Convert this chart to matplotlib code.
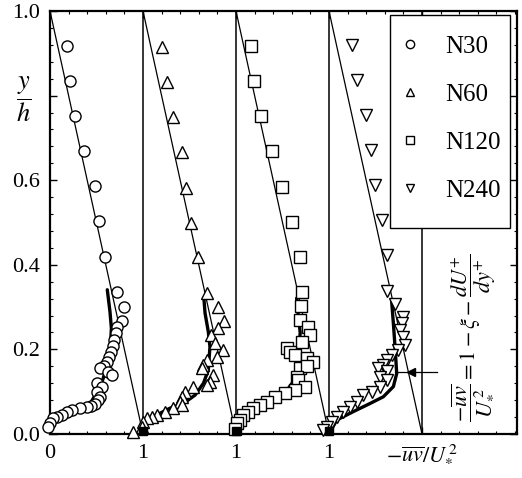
import matplotlib
matplotlib.use("Agg")
import matplotlib.pyplot as plt
import numpy as np
from matplotlib.ticker import MultipleLocator
from matplotlib.patches import Rectangle

plt.rcParams['font.family'] = ['Liberation Serif', 'DejaVu Serif']
plt.rcParams['mathtext.fontset'] = 'stix'

# ---------------- data (local -uv/U*^2 within each panel, y/h) ----------------
series_names = ['N30', 'N60', 'N120', 'N240']
series_markers = ['o', '^', 's', 'v']
panel_offsets = [0, 1, 2, 3]

n30_uv = [0.18, 0.215, 0.272, 0.369, 0.481, 0.530, 0.595, 0.724, 0.796, 0.774, 0.717,
          0.71, 0.688, 0.674, 0.659, 0.638, 0.609, 0.581, 0.538, 0.627, 0.663, 0.509,
          0.556, 0.502, 0.538, 0.52, 0.484, 0.437, 0.394, 0.323, 0.233, 0.179, 0.125,
          0.072, 0.036, 0.0, -0.018]
n30_y = [0.918, 0.835, 0.751, 0.669, 0.586, 0.503, 0.419, 0.335, 0.301, 0.268, 0.252,
         0.238, 0.222, 0.208, 0.195, 0.183, 0.171, 0.161, 0.155, 0.147, 0.139, 0.120,
         0.112, 0.100, 0.088, 0.080, 0.072, 0.066, 0.065, 0.061, 0.057, 0.053, 0.045,
         0.041, 0.037, 0.027, 0.017]

n60_uv = [0.201, 0.262, 0.326, 0.416, 0.459, 0.516, 0.595, 0.688, 0.81, 0.874, 0.81,
          0.728, 0.774, 0.857, 0.80, 0.692, 0.649, 0.631, 0.756, 0.72, 0.685, 0.541,
          0.452, 0.416, 0.398, 0.416, 0.326, 0.237, 0.147, 0.094, 0.04, 0.003, -0.014,
          -0.104]
n60_y = [0.916, 0.833, 0.749, 0.667, 0.582, 0.500, 0.419, 0.334, 0.300, 0.266, 0.250,
         0.234, 0.214, 0.199, 0.183, 0.175, 0.163, 0.155, 0.139, 0.124, 0.116, 0.112,
         0.100, 0.088, 0.076, 0.068, 0.061, 0.053, 0.045, 0.041, 0.037, 0.029, 0.017,
         0.005]

n120_uv = [0.158, 0.197, 0.266, 0.384, 0.491, 0.599, 0.688, 0.706, 0.70, 0.688, 0.778,
           0.796, 0.706, 0.545, 0.58, 0.634, 0.76, 0.831, 0.688, 0.76, 0.652, 0.67,
           0.742, 0.634, 0.527, 0.419, 0.33, 0.258, 0.186, 0.132, 0.078, 0.043, 0.007,
           -0.011]
n120_y = [0.918, 0.835, 0.752, 0.670, 0.585, 0.502, 0.419, 0.336, 0.303, 0.270, 0.254,
          0.234, 0.218, 0.203, 0.195, 0.187, 0.179, 0.171, 0.155, 0.160, 0.135, 0.128,
          0.112, 0.104, 0.096, 0.088, 0.076, 0.069, 0.061, 0.053, 0.045, 0.033, 0.025,
          0.013]

n240_uv = [0.244, 0.305, 0.398, 0.452, 0.495, 0.566, 0.62, 0.62, 0.71, 0.80, 0.78,
           0.763, 0.80, 0.817, 0.745, 0.674, 0.62, 0.584, 0.53, 0.62, 0.548, 0.62,
           0.548, 0.459, 0.369, 0.297, 0.226, 0.154, 0.083, 0.029, -0.025, -0.06]
n240_y = [0.920, 0.837, 0.754, 0.671, 0.589, 0.506, 0.423, 0.338, 0.307, 0.277, 0.262,
          0.246, 0.230, 0.210, 0.199, 0.187, 0.175, 0.163, 0.155, 0.150, 0.135, 0.128,
          0.112, 0.100, 0.092, 0.076, 0.065, 0.053, 0.041, 0.029, 0.017, 0.009]

# thick black curves (1 - xi - dU+/dy+) in each panel
c30_uv = [0.616, 0.645, 0.66, 0.65, 0.62, 0.57, 0.51, 0.44, 0.30, 0.15, 0.05, 0.0]
c30_y = [0.341, 0.289, 0.25, 0.21, 0.17, 0.13, 0.10, 0.075, 0.06, 0.045, 0.03, 0.0]
c60_uv = [0.656, 0.667, 0.702, 0.72, 0.702, 0.65, 0.56, 0.434, 0.29, 0.147, 0.003, 0.0]
c60_y = [0.317, 0.286, 0.242, 0.206, 0.151, 0.12, 0.092, 0.072, 0.061, 0.045, 0.028, 0.0]
c120_uv = [0.652, 0.67, 0.69, 0.68, 0.66, 0.62, 0.52, 0.40, 0.25, 0.12, 0.03, 0.0]
c120_y = [0.321, 0.28, 0.24, 0.20, 0.16, 0.125, 0.095, 0.08, 0.066, 0.05, 0.03, 0.0]
c240_uv = [0.674, 0.692, 0.71, 0.728, 0.692, 0.584, 0.44, 0.262, 0.083, 0.0]
c240_y = [0.313, 0.262, 0.206, 0.143, 0.112, 0.088, 0.072, 0.053, 0.033, 0.0]

series_uv = [n30_uv, n60_uv, n120_uv, n240_uv]
series_y = [n30_y, n60_y, n120_y, n240_y]
curve_uv = [c30_uv, c60_uv, c120_uv, c240_uv]
curve_y = [c30_y, c60_y, c120_y, c240_y]

# dense near-wall (filled) clusters at the base of panels 2-4
wall_x = [1.0, 2.0, 3.0]
wall_y = [0.006, 0.006, 0.006]

x_ticks = [0, 1, 2, 3, 4]
x_ticklabels = ['0', '1', '1', '1', r'$-\overline{uv}/U_{*}^{\,2}$']
y_ticks = [0.0, 0.2, 0.4, 0.6, 0.8, 1.0]
y_ticklabels = ['0.0', '0.2', '0.4', '0.6', '', '1.0']

# ---------------- figure ----------------
fig = plt.figure(figsize=(5.22, 4.78), dpi=100)
ax = fig.add_axes([50/522, 44/478, 467/522, 423/478])
ax.set_xlim(0, 467/93)
ax.set_ylim(0, 1.0)

# panel separators
for k in [1, 2, 3, 4]:
    ax.axvline(k, color='black', lw=1.1, zorder=1)

# theoretical diagonal lines: -uv/U*^2 = 1 - y/h
for off in panel_offsets:
    yy = np.array([1.0, 0.0])
    ax.plot(off + (1 - yy), yy, color='black', lw=0.9, zorder=2)

# thick curves
for off, cu, cy in zip(panel_offsets, curve_uv, curve_y):
    ax.plot(off + np.array(cu), cy, color='black', lw=2.4, zorder=3,
            solid_capstyle='round')

# markers
handles = []
for off, u, y, m, name in zip(panel_offsets, series_uv, series_y, series_markers, series_names):
    h, = ax.plot(off + np.array(u), y, linestyle='none', marker=m, ms=8,
                 mfc='white', mec='black', mew=1.0, zorder=4, label=name, clip_on=False)
    handles.append(h)

ax.plot(wall_x, wall_y, linestyle='none', marker='s', ms=6, color='black',
        zorder=5, clip_on=False)

# annotation arrow pointing at the thick curve in panel 4
arrow_start = (4.158, 0.147)
arrow_end = (3.71, 0.147)
ax.plot([arrow_start[0], arrow_end[0]], [arrow_start[1], arrow_end[1]], color='black', lw=0.9, zorder=5)
ax.plot([3.88], [0.147], marker='<', color='black', ms=6, zorder=5)

# formula text
ax.text(4.55, 0.227,
        r'$\dfrac{-\overline{uv}}{U_{*}^{\,2}}=1-\xi-\dfrac{dU^{+}}{dy^{+}}$',
        rotation=90, ha='center', va='center', fontsize=16, zorder=6)

# y label
ax.text(-0.28, 0.79, r'$\dfrac{y}{h}$', ha='center', va='center', fontsize=19,
        clip_on=False)

# ticks
ax.set_xticks(x_ticks)
ax.set_xticklabels(x_ticklabels)
ax.set_yticks(y_ticks)
ax.set_yticklabels(y_ticklabels)
ax.xaxis.set_minor_locator(MultipleLocator(0.2))
ax.yaxis.set_minor_locator(MultipleLocator(0.04))
ax.tick_params(which='both', direction='in', top=True, right=True, labelsize=16,
               color='black', labelcolor='black')
ax.tick_params(which='major', length=5, width=1.0, pad=7)
ax.tick_params(which='minor', length=2.5, width=0.8)
for sp in ax.spines.values():
    sp.set_linewidth(1.6)

# legend frame drawn as a rectangle, legend content placed inside
frame = Rectangle((0.728, 0.487), 0.985 - 0.728, 0.99 - 0.487, transform=ax.transAxes,
                  facecolor='white', edgecolor='black', lw=1.0, zorder=9)
ax.add_patch(frame)
leg = ax.legend(handles=handles, loc='upper left', bbox_to_anchor=(0.749, 0.942),
                fontsize=18, frameon=False, borderpad=0, labelspacing=1.02,
                handlelength=0.8, handletextpad=1.0, markerscale=0.75,
                borderaxespad=0)
leg.set_zorder(10)

fig.savefig('out.png', dpi=100)
